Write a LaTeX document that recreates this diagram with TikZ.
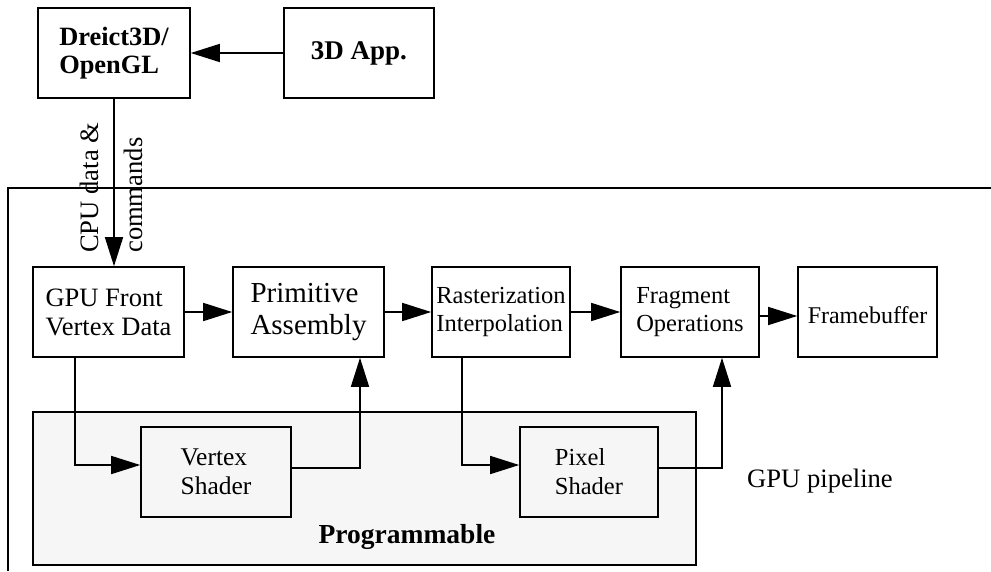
\documentclass[tikz,border=0pt]{standalone}
\usepackage{fontspec}
\setmainfont{Liberation Serif}
\usetikzlibrary{arrows.meta}
\begin{document}
\begin{tikzpicture}[x=1pt,y=-1pt,
  fs/.style 2 args={font=\fontsize{#1}{#2}\selectfont},
  fsb/.style 2 args={font=\fontsize{#1}{#2}\selectfont\bfseries},
  box/.style={draw, line width=1.6pt, minimum height=90pt, inner sep=0pt, align=left},
  arr/.style={line width=1.6pt, -{Triangle[length=29pt,width=18pt]}},
  ln/.style={line width=1.6pt}]
\useasboundingbox (0,0) rectangle (991,571);
% outer frame
\coordinate (fr1) at (991,188);
\coordinate (fr2) at (8,188);
\coordinate (fr3) at (8,571);
\draw[ln] (fr1) -- (fr2) -- (fr3);
% programmable region
\node[draw, line width=1.6pt, fill=gray!7, minimum width=663pt, minimum height=153pt, inner sep=0pt] (prog) at (364.5,488.5) {};
\node[fsb={27.5}{29}] (progl) at (407,537) {Programmable};
% top boxes
\node[box, minimum width=152pt, fsb={26.4}{28}] (d3d) at (114,53) {Dreict3D/\\OpenGL};
\node[box, minimum width=150pt, fsb={27}{29}] (app) at (359,53) {3D App.};
% pipeline boxes
\node[box, minimum width=151pt, fs={26.5}{29}] (gpu) at (108.5,312) {GPU Front\\Vertex Data};
\node[box, minimum width=151pt, fs={29}{32}] (prim) at (308.5,312) {Primitive\\Assembly};
\node[box, minimum width=138pt, fs={24.5}{28}] (ras) at (501,312) {Rasterization\\Interpolation};
\node[box, minimum width=138pt, fs={24.5}{28}] (frag) at (690,312) {Fragment\\Operations};
\node[box, minimum width=139pt, fs={24}{28}, text height=24pt] (fb) at (867.5,312) {Framebuffer};
% shaders
\node[box, minimum width=150pt, fs={25.5}{29}] (vs) at (216,472) {Vertex\\Shader};
\node[box, minimum width=138pt, fs={24.5}{29}] (ps) at (589,472) {Pixel\\Shader};
% labels
\node[fs={26.6}{29}, rotate=90, anchor=base west, inner sep=0pt] (cpu1) at (98,253) {CPU data \&};
\node[fs={26.6}{29}, rotate=90, anchor=base west, inner sep=0pt] (cpu2) at (142,253) {commands};
\node[fs={26.6}{29}] (gpul) at (820,481) {GPU pipeline};
% connectors
\draw[arr] (app.west) -- (d3d.east);
\draw[arr] (d3d.south) -- (d3d.south |- gpu.north);
\draw[arr] (gpu.east) -- (prim.west);
\draw[arr] (prim.east) -- (ras.west);
\draw[arr] (ras.east) -- (frag.west);
\draw[arr] ([yshift=-4pt]frag.east) -- ([yshift=-4pt]fb.west);
\draw[arr] ([xshift=-33.5pt]gpu.south) |- ([yshift=7pt]vs.west);
\draw[arr] ([yshift=4pt]vs.east) -| ([xshift=51.5pt]prim.south);
\draw[arr] ([xshift=-39pt]ras.south) |- ([yshift=7pt]ps.west);
\draw[arr] ([yshift=4pt]ps.east) -| ([xshift=32pt]frag.south);
\end{tikzpicture}
\end{document}
